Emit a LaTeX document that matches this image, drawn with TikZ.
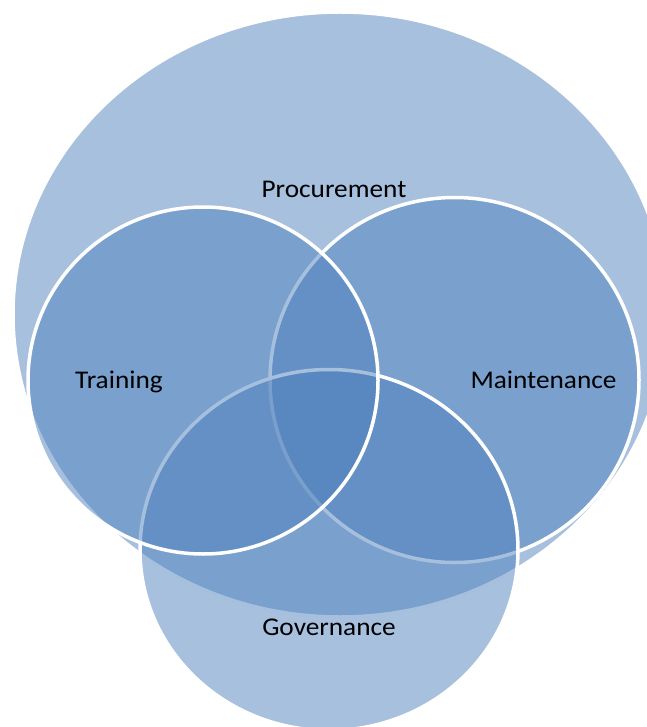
\documentclass[tikz,border=0pt]{standalone}
\usepackage{fontspec}
\setmainfont{Carlito}[FakeStretch=1.07]
\definecolor{vennblue}{HTML}{4F81BD}
\tikzset{
  venn/.style={fill=vennblue, fill opacity=0.5, draw=white, draw opacity=1, line width=3.5pt},
  lbl/.style={anchor=base, text=black, font=\fontsize{25.5}{30}\selectfont, inner sep=0pt}
}
\begin{document}
\begin{tikzpicture}[x=1pt,y=-1pt]
\useasboundingbox (0,0) rectangle (646,727);
% Procurement (big), Maintenance, Governance, Training
\path[venn] (340,314.5) ellipse [x radius=327pt, y radius=302.5pt];
\coordinate (proc) at (340,314.5);
\path[venn] (454.5,380) ellipse [x radius=184.5pt, y radius=182.5pt];
\coordinate (maint) at (454.5,380);
\path[venn] (329,550) ellipse [x radius=189pt, y radius=180.5pt];
\coordinate (gov) at (329,550);
\path[venn] (203,380.5) ellipse [x radius=175pt, y radius=173.5pt];
\coordinate (train) at (203,380.5);
\node[lbl] (tproc) at (334,197) {Procurement};
\node[lbl] (ttrain) at (119,388) {Training};
\node[lbl] (tmaint) at (543.5,388) {Maintenance};
\node[lbl] (tgov) at (329,635) {Governance};
\end{tikzpicture}
\end{document}
